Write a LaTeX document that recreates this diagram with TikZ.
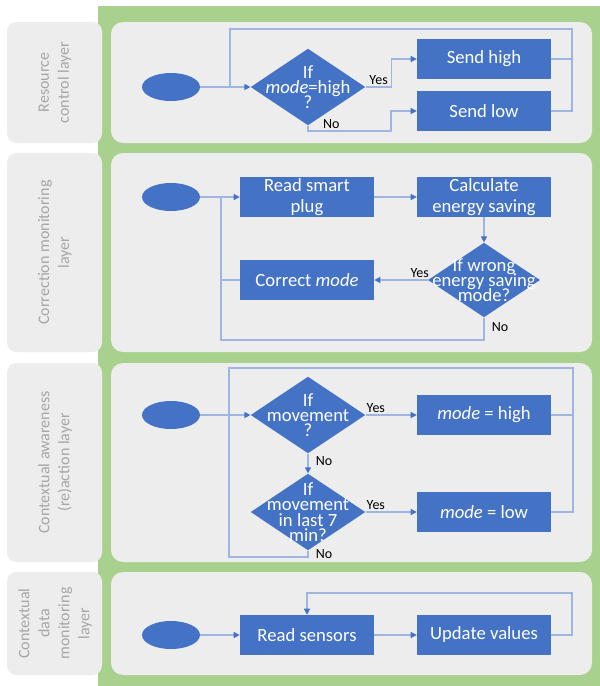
\documentclass[tikz,border=0pt]{standalone}
\usepackage{fontspec}
\setmainfont{Carlito}
\usetikzlibrary{arrows.meta,positioning,shapes.geometric}
\definecolor{OfficeBlue}{HTML}{4472C4}
\definecolor{FlowLine}{HTML}{9DB5E0}
\definecolor{LaneGreen}{HTML}{A9D18E}
\definecolor{LaneGray}{HTML}{EDEDED}
\definecolor{LabelGray}{HTML}{A6A6A6}
\newcommand\dectight{\lineskiplimit=-20pt\relax}

\tikzset{
  lane/.style={fill=LaneGray,rounded corners=9pt},
  lanetag/.style={rotate=90,align=center,text=LabelGray,font=\fontsize{12}{15}\selectfont},
  proc/.style={fill=OfficeBlue,text=white,minimum width=100.5pt,minimum height=30pt,inner sep=0pt,align=center,font=\fontsize{14}{16.3}\selectfont},
  dec/.style={diamond,fill=OfficeBlue,minimum width=86pt,minimum height=57.5pt,inner sep=0pt},
  dectext/.style={text=white,align=center,font=\fontsize{14}{11.5}\selectfont\dectight},
  startpt/.style={ellipse,fill=OfficeBlue,minimum width=43.5pt,minimum height=21pt,inner sep=0pt},
  flow/.style={draw=FlowLine,line width=0.9pt},
  go/.style={flow,-{Triangle[length=4.5pt,width=4.5pt,color=OfficeBlue]}},
  lbl/.style={font=\fontsize{10.5}{12}\selectfont,inner sep=1.5pt},
}

\begin{document}
\begin{tikzpicture}[x=0.75pt,y=-0.75pt]
\useasboundingbox (0,0) rectangle (600,686);
\fill[white] (0,0) rectangle (600,686);
\fill[LaneGreen] (98,6) rectangle (600,686);
% lanes and their tags
\foreach \t/\b in {22/143,153/352,363/562,572/675}{
  \fill[lane] (111,\t) rectangle (592,\b);
  \fill[lane,rounded corners=7pt] (7,\t) rectangle (102,\b);
}
\node[lanetag] (tag1) at (55,82.5) {Resource\\control layer};
\node[lanetag] (tag2) at (55,252.5) {Correction monitoring\\layer};
\node[lanetag] (tag3) at (55,462.5) {Contextual awareness\\(re)action layer};
\node[lanetag] (tag4) at (55,623.5) {Contextual\\data\\monitoring\\layer};

% resource control layer
\node[startpt] (s1) at (171,87) {};
\node[dec] (d1) at (308,87) {};
\node[dectext] (d1t) at (d1) {If\\\textit{mode}=high\\?};
\node[proc] (hi) at (484,59) {Send high};
\node[proc] (lo) at (484,111) {Send low};
\coordinate (j1) at (230,87);
\coordinate (r1) at (572,29);
\coordinate (n1) at (391,131);
\draw[go] (s1) -- (d1);
\draw[flow] (hi.east) -| (r1) -| (j1);
\draw[flow] (lo.east) -| (r1);
\draw[go] (d1.east) -- node[lbl,above]{Yes} ++(26,0) |- (hi.west);
\draw[go] (d1.south) |- node[lbl,pos=0.64,above]{No} (n1) |- (lo.west);

% correction monitoring layer
\node[startpt] (s2) at (171,197) {};
\node[proc] (plug) at (307,197) {Read smart\\plug};
\node[proc] (calc) at (484,197) {Calculate\\energy saving};
\node[dec,minimum width=84pt,minimum height=56pt] (d2) at (484,280) {};
\node[dectext] (d2t) at (d2) {If wrong\\energy saving\\mode?};
\node[proc] (corr) at (307,280) {Correct \textit{mode}};
\coordinate (j2) at (221,197);
\coordinate (c2) at (221,340);
\draw[go] (s2) -- (plug);
\draw[go] (plug) -- (calc);
\draw[go] (calc) -- (d2);
\draw[go] (d2) -- node[lbl,pos=0.15,above]{Yes} (corr);
\draw[flow] (d2.south) |- node[lbl,pos=0.22,right,xshift=4pt]{No} (c2) -- (j2);
\draw[flow] (corr.west) -- (corr.west -| j2);

% contextual awareness layer
\node[startpt] (s3) at (171,415) {};
\node[dec] (d3) at (308,415) {};
\node[dectext] (d3t) at (d3) {If\\movement\\?};
\node[proc] (mhi) at (484,415) {\textit{mode} = high};
\node[dec] (d4) at (308,512) {};
\node[dectext] (d4t) at (d4) {If\\movement\\in last 7\\min?};
\node[proc] (mlo) at (484,512) {\textit{mode} = low};
\coordinate (b3) at (229,557);
\coordinate (t3) at (229,368);
\coordinate (r3) at (573,368);
\draw[go] (s3) -- (d3);
\draw[go] (d3) -- node[lbl,pos=0.2,above]{Yes} (mhi);
\draw[go] (d4) -- node[lbl,pos=0.2,above]{Yes} (mlo);
\draw[go] (d3) -- node[lbl,pos=0.4,right,xshift=4pt]{No} (d4);
\draw[flow] (d4.south) |- node[lbl,pos=0.27,right,xshift=4pt]{No} (b3) -- (t3) -- (r3) |- (mlo.east);
\draw[flow] (mhi.east) -- (mhi.east -| r3);

% contextual data monitoring layer
\node[startpt] (s4) at (171,635) {};
\node[proc] (rs) at (307,635) {Read sensors};
\node[proc] (uv) at (484,635) {Update values};
\coordinate (r4) at (572,593);
\draw[go] (s4) -- (rs);
\draw[go] (rs) -- (uv);
\draw[go] (uv.east) -| (r4) -| (rs.north);
\end{tikzpicture}
\end{document}
